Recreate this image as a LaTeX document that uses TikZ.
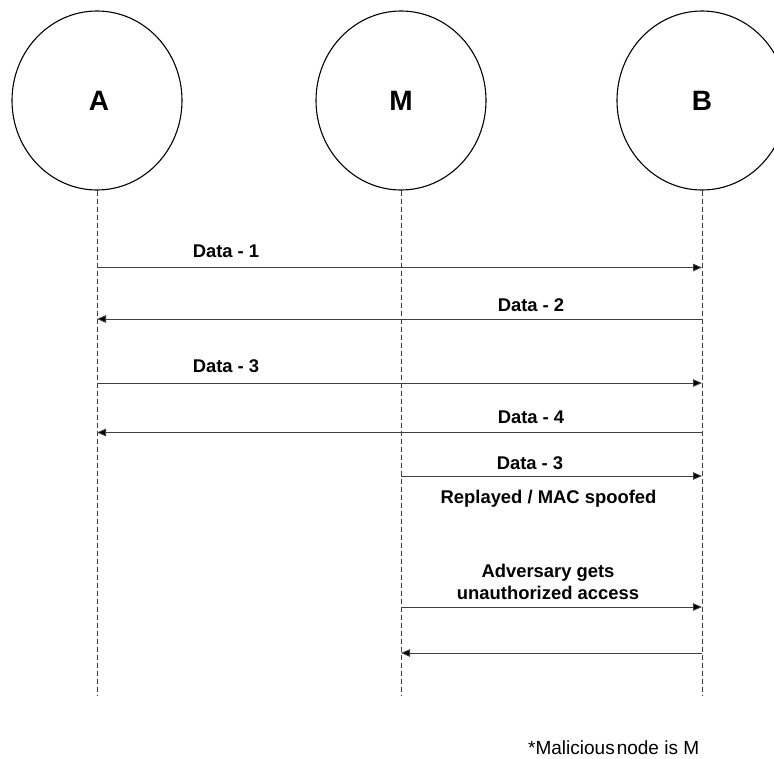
\documentclass[tikz,border=0pt]{standalone}
\usepackage{fontspec}
\setmainfont{Liberation Sans}
\usetikzlibrary{arrows.meta,shapes.geometric}
\begin{document}
\begin{tikzpicture}[x=1pt,y=-1pt,
 actor/.style={draw, ellipse, line width=1.1pt, minimum width=170pt, minimum height=179pt, inner sep=0pt, font=\fontsize{28}{32}\selectfont\bfseries},
 life/.style={draw=black!75, dash pattern=on 5pt off 3pt, line width=0.7pt},
 msg/.style={draw=black!75, line width=0.9pt, -{Triangle[length=9pt,width=7.5pt,fill=black]}},
 lbl/.style={font=\fontsize{18.4}{21}\selectfont\bfseries, inner sep=0pt, anchor=base},
 note/.style={font=\fontsize{19}{22}\selectfont, inner sep=0pt, anchor=base west}]
\useasboundingbox (0,0) rectangle (774,758);
\clip (0,0) rectangle (774,758);
% actors
\node[actor] (A) at (97,100.5) {\hspace{4pt}A};
\node[actor] (M) at (401,100.5) {M};
\node[actor] (B) at (702,100.5) {B};
% lifelines
\coordinate (Aend) at (97,695);
\coordinate (Mend) at (401,695);
\coordinate (Bend) at (702,695);
\draw[life] (A.south) -- (Aend);
\draw[life] (M.south) -- (Mend);
\draw[life] (B.south) -- (Bend);
% message rows
\coordinate (r1) at (0,267.5);
\coordinate (r2) at (0,319);
\coordinate (r3) at (0,383);
\coordinate (r4) at (0,432.5);
\coordinate (r5) at (0,476);
\coordinate (r6) at (0,607);
\coordinate (r7) at (0,653);
\draw[msg] (A |- r1) -- (B |- r1);
\draw[msg] (B |- r2) -- (A |- r2);
\draw[msg] (A |- r3) -- (B |- r3);
\draw[msg] (B |- r4) -- (A |- r4);
\draw[msg] (M |- r5) -- (B |- r5);
\draw[msg] (M |- r6) -- (B |- r6);
\draw[msg] (B |- r7) -- (M |- r7);
% labels
\node[lbl] (l1) at (226,257.5) {Data - 1};
\node[lbl] (l2) at (531,311) {Data - 2};
\node[lbl] (l3) at (226,372.5) {Data - 3};
\node[lbl] (l4) at (531,423.5) {Data - 4};
\node[lbl] (l5) at (530,469) {Data - 3};
\node[lbl] (l6) at (548.5,503.5) {Replayed / MAC spoofed};
\node[lbl] (l7) at (548,577.5) {Adversary gets};
\node[lbl] (l8) at (548,599) {unauthorized access};
\node[note] (n1) at (528,754) {*Malicious\hspace{2pt}node is M};
\end{tikzpicture}
\end{document}
